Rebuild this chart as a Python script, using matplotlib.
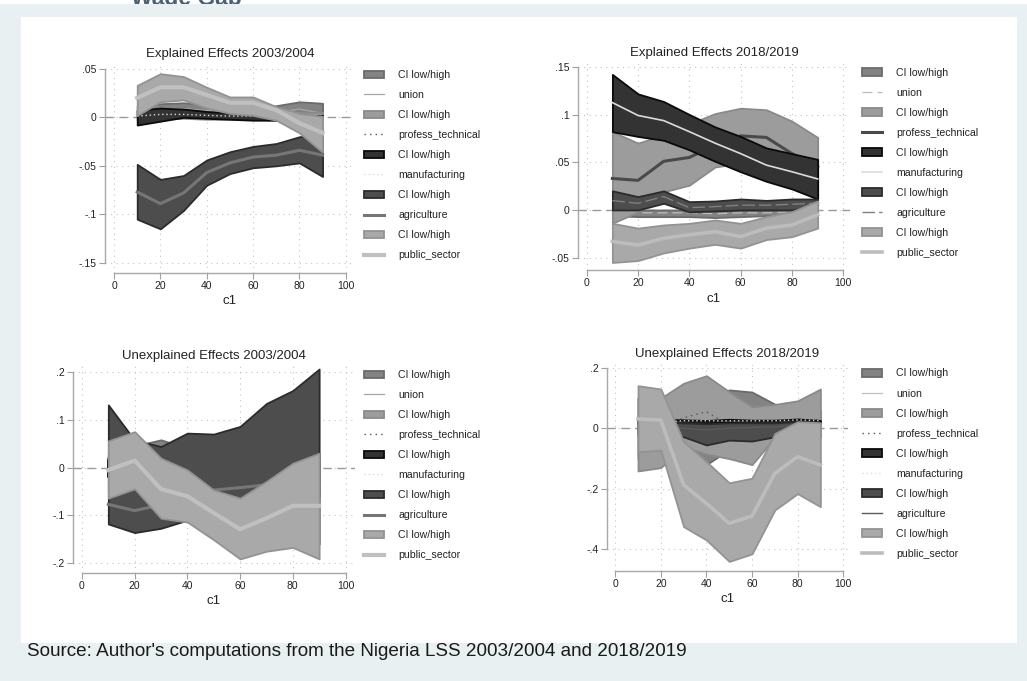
import matplotlib
matplotlib.use('Agg')
import matplotlib.pyplot as plt
from matplotlib.patches import Patch, Rectangle
from matplotlib.lines import Line2D

plt.rcParams['font.family'] = ['Liberation Sans', 'DejaVu Sans']

W, H = 1027, 681

c1 = [10, 20, 30, 40, 50, 60, 70, 80, 90]
names = ['union', 'profess_technical', 'manufacturing', 'agriculture', 'public_sector']

# rows follow `names`: estimate, CI low, CI high
# Explained effects 2003/2004
e03_b = [
    [0.006, 0.008, 0.009, 0.007, 0.006, 0.005, 0.005, 0.0085, 0.004],
    [0.002, 0.003, 0.003, 0.002, 0.002, 0.001, 0.001, 0.001, 0.001],
    [0.0013, 0.003, 0.003, 0.002, 0.0013, 0.0013, 0.0, 0.0, 0.001],
    [-0.077, -0.089, -0.078, -0.057, -0.047, -0.041, -0.039, -0.034, -0.039],
    [0.020, 0.031, 0.031, 0.023, 0.015, 0.015, 0.0075, -0.006, -0.016],
]
e03_lo = [
    [0.000, 0.001, 0.002, 0.001, 0.000, -0.001, -0.002, 0.001, -0.006],
    [-0.003, -0.002, -0.001, -0.002, -0.002, -0.002, -0.003, -0.003, -0.003],
    [-0.008, -0.004, 0.0, -0.001, -0.002, -0.003, -0.003, -0.002, 0.0],
    [-0.105, -0.115, -0.096, -0.070, -0.058, -0.052, -0.050, -0.047, -0.061],
    [0.002, 0.016, 0.018, 0.0096, 0.004, 0.002, -0.003, -0.016, -0.036],
]
e03_hi = [
    [0.012, 0.014, 0.015, 0.013, 0.012, 0.011, 0.012, 0.016, 0.0145],
    [0.007, 0.008, 0.007, 0.006, 0.005, 0.004, 0.004, 0.005, 0.005],
    [0.0075, 0.0095, 0.0085, 0.006, 0.0045, 0.0025, 0.002, 0.002, 0.002],
    [-0.0485, -0.064, -0.060, -0.044, -0.0355, -0.030, -0.027, -0.020, -0.018],
    [0.033, 0.045, 0.042, 0.031, 0.021, 0.021, 0.011, 0.004, 0.001],
]

# Explained effects 2018/2019
e18_b = [
    [-0.002, -0.003, -0.003, -0.003, -0.004, -0.003, -0.003, -0.002, 0.0],
    [0.033, 0.031, 0.051, 0.055, 0.068, 0.0776, 0.076, 0.059, 0.045],
    [0.1125, 0.099, 0.0936, 0.082, 0.070, 0.059, 0.047, 0.040, 0.0325],
    [0.0098, 0.007, 0.014, 0.0024, 0.0035, 0.005, 0.005, 0.006, 0.007],
    [-0.033, -0.0367, -0.0297, -0.026, -0.0227, -0.028, -0.019, -0.0157, -0.005],
]
e18_lo = [
    [-0.006, -0.007, -0.007, -0.007, -0.008, -0.007, -0.006, -0.005, -0.002],
    [-0.014, -0.002, 0.019, 0.026, 0.045, 0.049, 0.040, 0.023, 0.0115],
    [0.082, 0.077, 0.073, 0.063, 0.051, 0.040, 0.030, 0.022, 0.0115],
    [0.0, 0.0, 0.007, -0.002, -0.001, 0.0, 0.0, 0.0, 0.004],
    [-0.055, -0.053, -0.045, -0.040, -0.036, -0.040, -0.031, -0.028, -0.019],
]
e18_hi = [
    [0.0, 0.0, 0.0, 0.0, -0.001, 0.0, 0.0, 0.0, 0.002],
    [0.082, 0.070, 0.0786, 0.090, 0.101, 0.1066, 0.105, 0.093, 0.076],
    [0.142, 0.1216, 0.1136, 0.100, 0.087, 0.077, 0.065, 0.059, 0.053],
    [0.020, 0.014, 0.020, 0.0087, 0.0094, 0.0115, 0.010, 0.0115, 0.0115],
    [-0.014, -0.019, -0.0157, -0.014, -0.0105, -0.014, -0.007, -0.0017, 0.0094],
]

# Unexplained effects 2003/2004
u03_b = [
    [-0.01, 0.0, 0.01, 0.0, -0.01, -0.01, -0.01, -0.01, -0.01],
    [0.0, 0.0, 0.0, 0.0, 0.0, 0.0, 0.0, 0.0, 0.0],
    [0.0, -0.005, 0.0, 0.0, -0.005, 0.0, 0.0, 0.0, 0.0],
    [-0.077, -0.090, -0.078, -0.060, -0.047, -0.042, -0.036, -0.040, -0.040],
    [-0.005, 0.0146, -0.045, -0.060, -0.095, -0.129, -0.106, -0.080, -0.080],
]
u03_lo = [
    [-0.05, -0.04, -0.03, -0.04, -0.05, -0.05, -0.06, -0.06, -0.06],
    [-0.02, -0.02, -0.02, -0.02, -0.02, -0.02, -0.02, -0.02, -0.02],
    [-0.02, -0.02, -0.02, -0.02, -0.02, -0.02, -0.02, -0.02, -0.02],
    [-0.118, -0.136, -0.127, -0.110, -0.120, -0.140, -0.150, -0.150, -0.160],
    [-0.064, -0.0445, -0.106, -0.114, -0.151, -0.191, -0.175, -0.167, -0.191],
]
u03_hi = [
    [0.03, 0.045, 0.058, 0.04, 0.03, 0.03, 0.03, 0.03, 0.03],
    [0.02, 0.02, 0.02, 0.02, 0.02, 0.02, 0.02, 0.02, 0.02],
    [0.015, 0.015, 0.015, 0.015, 0.015, 0.015, 0.015, 0.015, 0.015],
    [0.131, 0.057, 0.044, 0.072, 0.070, 0.086, 0.134, 0.161, 0.206],
    [0.0557, 0.075, 0.0195, -0.005, -0.047, -0.064, -0.029, 0.009, 0.030],
]

# Unexplained effects 2018/2019
u18_b = [
    [0.0, 0.0, 0.005, 0.005, 0.005, 0.005, 0.005, 0.005, 0.005],
    [0.0, 0.0, 0.035, 0.055, 0.01, -0.02, 0.01, 0.02, 0.03],
    [0.02, 0.02, 0.025, 0.025, 0.025, 0.025, 0.025, 0.028, 0.025],
    [0.0, 0.0, 0.0, -0.005, 0.0, 0.003, 0.005, 0.01, 0.015],
    [0.031, 0.0275, -0.187, -0.248, -0.314, -0.29, -0.149, -0.094, -0.121],
]
u18_lo = [
    [-0.10, -0.10, -0.07, -0.12, -0.07, -0.08, -0.05, -0.03, -0.03],
    [-0.141, -0.130, -0.06, -0.085, -0.10, -0.12, -0.03, 0.0, 0.0],
    [0.015, 0.015, 0.018, 0.018, 0.02, 0.018, 0.018, 0.022, 0.018],
    [-0.02, -0.02, -0.028, -0.055, -0.039, -0.042, -0.028, 0.0, 0.015],
    [-0.077, -0.072, -0.325, -0.369, -0.44, -0.415, -0.27, -0.216, -0.259],
]
u18_hi = [
    [0.10, 0.10, 0.12, 0.10, 0.127, 0.12, 0.08, 0.07, 0.06],
    [0.10, 0.10, 0.149, 0.174, 0.121, 0.0714, 0.079, 0.091, 0.13],
    [0.03, 0.03, 0.028, 0.026, 0.03, 0.027, 0.027, 0.031, 0.026],
    [0.02, 0.02, 0.018, 0.015, 0.018, 0.018, 0.018, 0.022, 0.02],
    [0.141, 0.130, -0.044, -0.11, -0.18, -0.165, -0.017, 0.022, 0.0185],
]

xticks = [0, 20, 40, 60, 80, 100]
e03_yticks = [0.05, 0, -0.05, -0.1, -0.15]
e03_ylabels = ['.05', '0', '-.05', '-.1', '-.15']
e18_yticks = [0.15, 0.1, 0.05, 0, -0.05]
e18_ylabels = ['.15', '.1', '.05', '0', '-.05']
u03_yticks = [0.2, 0.1, 0, -0.1, -0.2]
u03_ylabels = ['.2', '.1', '0', '-.1', '-.2']
u18_yticks = [0.2, 0, -0.2, -0.4]
u18_ylabels = ['.2', '0', '-.2', '-.4']

# CI area colours (fill, outline), same in every graph
band_fill = ['#838383', '#9c9c9c', '#333333', '#4d4d4d', '#a9a9a9']
band_edge = ['#6b6b6b', '#8a8a8a', '#0a0a0a', '#2b2b2b', '#939393']

dots = (0, (1, 3))
lines_a = [
    dict(color='#a6a6a6', lw=0.9, ls='-'),
    dict(color='#555555', lw=1.0, ls=dots),
    dict(color='#d9d9d9', lw=1.0, ls=(0, (1, 2))),
    dict(color='#767676', lw=2.2, ls='-'),
    dict(color='#c0c0c0', lw=3.0, ls='-'),
]
lines_b = [
    dict(color='#bdbdbd', lw=0.9, ls=(0, (8, 4))),
    dict(color='#4a4a4a', lw=2.2, ls='-'),
    dict(color='#dcdcdc', lw=1.2, ls='-'),
    dict(color='#808080', lw=1.0, ls=(0, (9, 3))),
    dict(color='#bcbcbc', lw=2.6, ls='-'),
]
lines_c = [
    dict(color='#c0c0c0', lw=0.9, ls='-'),
    dict(color='#555555', lw=1.0, ls=dots),
    dict(color='#dddddd', lw=1.0, ls=(0, (1, 2))),
    dict(color='#5a5a5a', lw=1.0, ls='-'),
    dict(color='#bcbcbc', lw=2.6, ls='-'),
]

panels = [
    dict(title='Explained Effects 2003/2004', b=e03_b, lo=e03_lo, hi=e03_hi,
         box=(105, 63, 355, 273), xlim=(-3.9, 104.0), ylim=(-0.1605, 0.056),
         yticks=e03_yticks, ylabels=e03_ylabels, leg=(364, 70), styles=lines_a),
    dict(title='Explained Effects 2018/2019', b=e18_b, lo=e18_lo, hi=e18_hi,
         box=(578, 62, 850, 270), xlim=(-3.4, 102.6), ylim=(-0.0629, 0.155),
         yticks=e18_yticks, ylabels=e18_ylabels, leg=(862, 67.5), styles=lines_b),
    dict(title='Unexplained Effects 2003/2004', b=u03_b, lo=u03_lo, hi=u03_hi,
         box=(73, 365, 355, 573), xlim=(-3.4, 103.6), ylim=(-0.2205, 0.2144),
         yticks=u03_yticks, ylabels=u03_ylabels, leg=(364, 370), styles=lines_a),
    dict(title='Unexplained Effects 2018/2019', b=u18_b, lo=u18_lo, hi=u18_hi,
         box=(607, 363, 848, 571), xlim=(-3.6, 102.1), ylim=(-0.4717, 0.216),
         yticks=u18_yticks, ylabels=u18_ylabels, leg=(862, 368.5), styles=lines_c),
]


def fig_box(x0, y0, x1, y1):
    # pixel box (top-left origin) -> figure fraction rect
    return [x0 / W, 1 - y1 / H, (x1 - x0) / W, (y1 - y0) / H]


fig = plt.figure(figsize=(W / 100, H / 100), dpi=100, facecolor='#e9f0f2')

# page background: white top strip, cut-off heading, blue band, white graph area
fig.add_artist(Rectangle((0, 1 - 4 / H), 1, 4 / H, transform=fig.transFigure,
                         facecolor='white', edgecolor='none', zorder=-6))
fig.text(131 / W, 1 - 5 / H, 'Wage Gap', fontsize=16.5, fontweight='bold',
         color='#4b6274', va='baseline', ha='left', zorder=-5)
fig.add_artist(Rectangle((0, 1 - 17 / H), 1, 13 / H, transform=fig.transFigure,
                         facecolor='#e9f0f2', edgecolor='none', zorder=-4))
fig.add_artist(Rectangle((21 / W, 1 - 643 / H), (1017 - 21) / W, (643 - 17) / H,
                         transform=fig.transFigure, facecolor='white',
                         edgecolor='none', zorder=-4))

for p in panels:
    ax = fig.add_axes(fig_box(*p['box']))
    ax.set_facecolor('none')
    # zero reference line sits under the CI areas
    ax.axhline(0, color='#9a9a9a', lw=1.0, ls=(0, (6, 4)), zorder=1.5)
    z = 2
    for i in range(len(names)):
        ax.fill_between(c1, p['lo'][i], p['hi'][i], facecolor=band_fill[i],
                        edgecolor=band_edge[i], lw=1.3, zorder=z)
        st = p['styles'][i]
        ax.plot(c1, p['b'][i], color=st['color'], lw=st['lw'], ls=st['ls'],
                zorder=z + 1)
        z += 2

    ax.set_xlim(*p['xlim'])
    ax.set_ylim(*p['ylim'])
    ax.set_xticks(xticks)
    ax.set_yticks(p['yticks'])
    ax.set_yticklabels(p['ylabels'])
    ax.grid(True, color='#c4c4c4', lw=0.8, ls=(0, (1, 4)), zorder=1)
    ax.set_axisbelow(True)

    for s in ['top', 'right']:
        ax.spines[s].set_visible(False)
    for s in ['left', 'bottom']:
        ax.spines[s].set_color('#a8a8a8')
        ax.spines[s].set_linewidth(1.0)
    ax.spines['left'].set_bounds(min(p['yticks']), max(p['yticks']))
    ax.spines['bottom'].set_bounds(0, 100)
    ax.tick_params(direction='out', length=4, width=0.8, color='#a0a0a0',
                   labelsize=7.5, labelcolor='#222222', pad=2)

    ax.set_title(p['title'], fontsize=9.5, color='#222222', pad=4)
    ax.set_xlabel('c1', fontsize=9.5, color='#222222', labelpad=3)

    handles = []
    for i in range(len(names)):
        handles.append(Patch(facecolor=band_fill[i], edgecolor=band_edge[i], lw=1.3))
        st = p['styles'][i]
        handles.append(Line2D([], [], color=st['color'], lw=st['lw'], ls=st['ls']))
    labels = []
    for n in names:
        labels += ['CI low/high', n]
    lx, ly = p['leg']
    ax.legend(handles, labels, loc='upper left', bbox_to_anchor=(lx / W, 1 - ly / H),
              bbox_transform=fig.transFigure, frameon=False, fontsize=7.6,
              handlelength=1.9, handletextpad=1.35, labelspacing=0.95,
              borderpad=0, borderaxespad=0, labelcolor='#222222')

fig.text(27 / W, 1 - 652 / H,
         "Source: Author's computations from the Nigeria LSS 2003/2004 and 2018/2019",
         fontsize=13.6, color='#1a1a1a', va='center', ha='left')

fig.savefig('out.png', dpi=100, facecolor=fig.get_facecolor())
